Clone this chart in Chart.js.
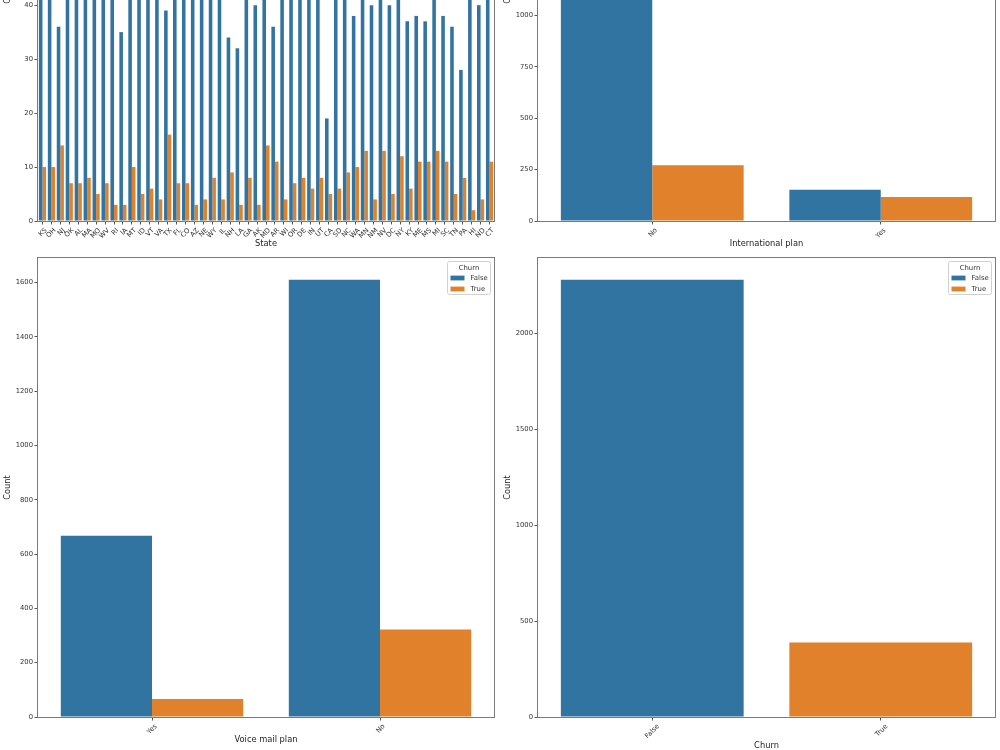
<!DOCTYPE html>
<html>
<head>
<meta charset="utf-8">
<script src="https://cdn.jsdelivr.net/npm/chart.js@4"></script>
<style>
html, body { margin: 0; padding: 0; background: #fff; overflow: hidden; }
#fig { position: relative; width: 1000px; height: 750px; overflow: hidden; }
#fig canvas { position: absolute; width: 500px; }
</style>
</head>
<body>
<div id="fig">
    <canvas id="state" width="500" height="500" style="left:0;top:-250px;height:500px"></canvas>
    <canvas id="intl" width="500" height="500" style="left:500px;top:-250px;height:500px"></canvas>
    <canvas id="vmail" width="500" height="500" style="left:0;top:250px;height:500px"></canvas>
    <canvas id="churn" width="500" height="510" style="left:500px;top:250px;height:510px"></canvas>
</div>
<script>
"use strict";

// counts by state, split by churn
const states = ["KS", "OH", "NJ", "OK", "AL", "MA", "MO", "WV", "RI", "IA", "MT", "ID", "VT", "VA", "TX", "FL", "CO",
    "AZ", "NE", "WY", "IL", "NH", "LA", "GA", "AK", "MD", "AR", "WI", "OR", "DE", "IN", "UT", "CA", "SD", "NC", "WA",
    "MN", "NM", "NV", "DC", "NY", "KY", "ME", "MS", "MI", "SC", "TN", "PA", "HI", "ND", "CT"];
const stateFalse = [46, 52, 36, 42, 57, 44, 45, 81, 49, 35, 44, 53, 52, 58, 39, 43, 46,
    48, 45, 54, 42, 34, 32, 42, 40, 42, 36, 58, 55, 41, 51, 50, 19, 42, 45, 38,
    54, 40, 44, 40, 54, 37, 38, 37, 45, 38, 36, 28, 43, 40, 48];
const stateTrue = [10, 10, 14, 7, 7, 8, 5, 7, 3, 3, 10, 5, 6, 4, 16, 7, 7,
    3, 4, 8, 4, 9, 3, 8, 3, 14, 11, 4, 7, 8, 6, 8, 5, 6, 9, 10,
    13, 4, 13, 5, 12, 6, 11, 11, 13, 11, 5, 8, 2, 4, 11];

const intlPlan = ["No", "Yes"];
const intlFalse = [2126, 152];
const intlTrue = [271, 117];

const vmailPlan = ["Yes", "No"];
const vmailFalse = [668, 1610];
const vmailTrue = [66, 322];

const churnCats = ["False", "True"];
const churnCounts = [2278, 388];

const BLUE = "#3274a1";
const ORANGE = "#e1812c";
const FONT = "DejaVu Sans";

Chart.defaults.font.family = FONT;

// axes box on all four sides, like matplotlib spines
const frame = {
    id: "frame",
    afterDatasetsDraw (chart) {
        const {ctx, chartArea: a} = chart;
        ctx.save();
        ctx.strokeStyle = "#7a7a7a";
        ctx.lineWidth = 1;
        ctx.strokeRect(Math.round(a.left) - 0.5, Math.round(a.top) - 0.5,
            Math.round(a.right - a.left) + 1, Math.round(a.bottom - a.top) + 1);
        ctx.restore();
    }
};

// seaborn style legend in the upper right of the axes
const hueLegend = {
    id: "hueLegend",
    afterDraw (chart, args, opts) {
        const {ctx, chartArea: a} = chart;
        const w = 43, h = 33;
        const x = Math.round(a.right) - 3.5 - w, y = Math.round(a.top) + 3.5;

        ctx.save();
        ctx.fillStyle = "rgba(255,255,255,0.8)";
        ctx.strokeStyle = "#d0d0d0";
        ctx.lineWidth = 1;
        ctx.beginPath();
        ctx.roundRect(x, y, w, h, 2);
        ctx.fill();
        ctx.stroke();

        ctx.font = `6.9px "${FONT}"`;
        ctx.fillStyle = "#333";
        ctx.textAlign = "center";
        ctx.textBaseline = "middle";
        ctx.fillText(opts.title, x + w / 2, y + 6.5);

        ctx.textAlign = "left";
        opts.items.forEach((item, i) => {
            const cy = y + 16.5 + i * 11;
            ctx.fillStyle = item.color;
            ctx.fillRect(x + 3, cy - 2.4, 14, 4.8);
            ctx.fillStyle = "#333";
            ctx.fillText(item.label, x + 23, cy);
        });
        ctx.restore();
    }
};

function panel (id, {labels, datasets, xTitle, yMax, step, labelOffset, axisH = 28, padTop, padBottom, padRight}) {
    return new Chart(document.getElementById(id), {
        type: "bar",
        data: {labels, datasets},
        plugins: [frame, hueLegend],
        options: {
            responsive: false,
            animation: false,
            devicePixelRatio: 1,
            layout: {
                padding: {left: 0, right: padRight, top: padTop, bottom: padBottom}
            },
            plugins: {
                legend: {display: false},
                tooltip: {enabled: false},
                hueLegend: {
                    title: "Churn",
                    items: [{label: "False", color: BLUE}, {label: "True", color: ORANGE}]
                }
            },
            scales: {
                x: {
                    offset: true,
                    grid: {offset: false, drawOnChartArea: false, tickLength: 3.5, color: "#555"},
                    border: {display: false},
                    ticks: {
                        autoSkip: false,
                        minRotation: 45,
                        maxRotation: 45,
                        padding: 2,
                        labelOffset,
                        color: "#333",
                        font: {size: 6.8}
                    },
                    title: {
                        display: true,
                        text: xTitle,
                        color: "#222",
                        font: {size: 8.3},
                        padding: {top: 0, bottom: 0}
                    },
                    afterFit: s => { s.height = axisH; }
                },
                y: {
                    min: 0,
                    max: yMax,
                    grid: {drawOnChartArea: false, tickLength: 3.5, color: "#555"},
                    border: {display: false},
                    ticks: {
                        padding: 1.5,
                        color: "#333",
                        font: {size: 6.8},
                        callback: v => String(v)
                    },
                    // plain multiples of the step, like matplotlib's locator
                    afterBuildTicks: s => {
                        const ticks = [];
                        for (let v = 0; v <= s.max; v += step) {
                            ticks.push({value: v});
                        }
                        s.ticks = ticks;
                    },
                    title: {
                        display: true,
                        text: "Count",
                        color: "#222",
                        font: {size: 8.3},
                        padding: {top: 3, bottom: 0}
                    },
                    afterFit: s => { s.width = 38; }
                }
            }
        }
    });
}

const hue = (f, t) => [
    {label: "False", data: f, backgroundColor: BLUE, categoryPercentage: 0.8, barPercentage: 1},
    {label: "True", data: t, backgroundColor: ORANGE, categoryPercentage: 0.8, barPercentage: 1}
];
const headroom = v => Math.max(...v) * 1.05;

panel("state", {
    labels: states,
    datasets: hue(stateFalse, stateTrue),
    xTitle: "State",
    yMax: headroom(stateFalse),
    step: 10,
    labelOffset: 3.5,
    padTop: 12, padBottom: 1, padRight: 6
});

panel("intl", {
    labels: intlPlan,
    datasets: hue(intlFalse, intlTrue),
    xTitle: "International plan",
    yMax: headroom(intlFalse),
    step: 250,
    labelOffset: 4,
    padTop: 12, padBottom: 1, padRight: 5
});

panel("vmail", {
    labels: vmailPlan,
    datasets: hue(vmailFalse, vmailTrue),
    xTitle: "Voice mail plan",
    yMax: headroom(vmailFalse),
    step: 200,
    labelOffset: 4,
    padTop: 8, padBottom: 5, padRight: 6
});

panel("churn", {
    labels: churnCats,
    datasets: [{
        label: "Count",
        data: churnCounts,
        backgroundColor: [BLUE, ORANGE],
        categoryPercentage: 1,
        barPercentage: 0.8
    }],
    xTitle: "Churn",
    yMax: headroom(churnCounts),
    step: 500,
    labelOffset: 6,
    axisH: 34,
    padTop: 8, padBottom: 9, padRight: 5
});
</script>
</body>
</html>
